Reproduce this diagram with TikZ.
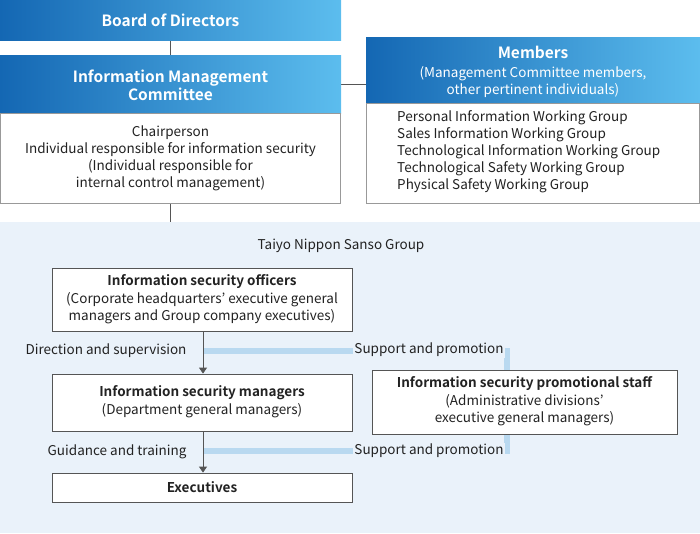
\documentclass[tikz,border=0pt]{standalone}
\usepackage{fontspec}
\setmainfont{Noto Sans CJK JP}[BoldFont={Noto Sans CJK JP Bold}]
\usetikzlibrary{arrows.meta}
\definecolor{dk}{HTML}{1467B3}
\definecolor{lt}{HTML}{5CBDEE}
\definecolor{bg}{HTML}{EAF2FA}
\definecolor{bar}{HTML}{B9D9F0}
\definecolor{gr}{HTML}{555555}
\definecolor{txt}{HTML}{222222}
\tikzset{
 hdr/.style={left color=dk,right color=lt,draw=none},
 body/.style={draw=gr!60,fill=white,line width=0.6pt},
 wbox/.style={draw=gr,fill=white,line width=0.8pt},
 ht/.style={text=white,font=\fontsize{15.5}{18}\selectfont\bfseries,align=center},
 ht2/.style={text=white,font=\fontsize{13.5}{17}\selectfont,align=center},
 bt/.style={text=txt,font=\fontsize{13.5}{17}\selectfont,align=center},
 bb/.style={text=txt,font=\fontsize{13.5}{17}\selectfont\bfseries,align=center},
 conn/.style={draw=gr,line width=0.8pt},
 blb/.style={draw=bar,line width=6pt},
 arr/.style={conn,-{Triangle[length=6pt,width=8pt]}}
}
\begin{document}
\begin{tikzpicture}[x=1pt,y=-1pt]
\useasboundingbox (0,0) rectangle (700,533);
\fill[bg] (0,222) rectangle (700,533);
\coordinate (b1) at (170,40); \coordinate (b2) at (170,55);
\draw[conn] (b1)--(b2);
\coordinate (c1) at (170,203); \coordinate (c2) at (170,222);
\draw[conn] (c1)--(c2);
\coordinate (m1) at (341,84); \coordinate (m2) at (366,84);
\draw[conn] (m1)--(m2);
\shade[hdr] (0,0) rectangle (341,40);
\node[ht] (bod) at (170.5,20) {Board of Directors};
\shade[hdr] (0,55) rectangle (341,113);
\node[ht] (imc) at (170.5,85) {Information Management\\Committee};
\draw[body] (0.5,113) rectangle (340.5,203);
\node[bt] (imcb) at (170.5,158) {Chairperson\\Individual responsible for information security\\(Individual responsible for\\internal control management)};
\shade[hdr] (366,37) rectangle (700,103);
\node[ht] (mem) at (533,52) {Members};
\node[ht2] (memsub) at (533,82) {(Management Committee members,\\other pertinent individuals)};
\draw[body] (366.5,103) rectangle (699.5,203);
\node[bt,align=left,anchor=north west,inner sep=0pt] (memb) at (397,110.5) {Personal Information Working Group\\Sales Information Working Group\\Technological Information Working Group\\Technological Safety Working Group\\Physical Safety Working Group};
\node[text=txt,font=\fontsize{13.5}{15}\selectfont] (grp) at (341,246) {Taiyo Nippon Sanso Group};
\coordinate (p1) at (203,351); \coordinate (p2) at (507,351); \coordinate (p3) at (507,370);
\draw[blb] (p1)--(p2)--(p3);
\coordinate (q1) at (203,451); \coordinate (q2) at (507,451); \coordinate (q3) at (507,434);
\draw[blb] (q1)--(q2)--(q3);
\node[wbox,minimum width=300pt,minimum height=63pt,inner sep=0pt] (off) at (202,299.5) {};
\node[bb] at (202,282) {Information security officers};
\node[bt] at (202,308) {(Corporate headquarters' executive general\\managers and Group company executives)};
\node[wbox,minimum width=300pt,minimum height=57pt,inner sep=0pt] (mgr) at (202,402.5) {};
\node[bb] at (202,393) {Information security managers};
\node[bt] at (202,411) {(Department general managers)};
\node[wbox,minimum width=305pt,minimum height=64pt,inner sep=0pt] (ps) at (524.5,402) {};
\node[bb] at (524.5,384) {Information security promotional staff};
\node[bt] at (524.5,410) {(Administrative divisions'\\executive general managers)};
\node[wbox,minimum width=300pt,minimum height=29pt,inner sep=0pt] (ex) at (202,487.5) {};
\node[bb] at (202,487.5) {Executives};
\draw[arr] (off.south -| 203,0)--(mgr.north -| 203,0);
\draw[arr] (mgr.south -| 203,0)--(ex.north -| 203,0);
\node[bt,anchor=east] (ds) at (190,351) {Direction and supervision};
\node[bt,anchor=east] (gt) at (190,452) {Guidance and training};
\node[bt,fill=bg,inner sep=1pt] (sp1) at (429,350) {Support and promotion};
\node[bt,fill=bg,inner sep=1pt] (sp2) at (429,451) {Support and promotion};
\end{tikzpicture}
\end{document}
